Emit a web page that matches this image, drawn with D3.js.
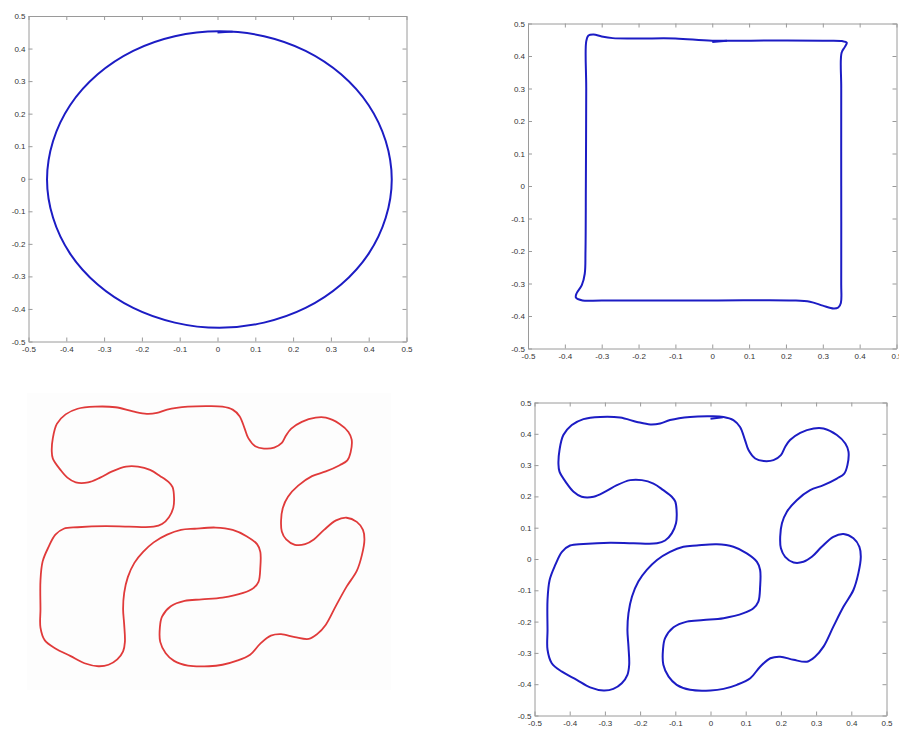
<!DOCTYPE html>
<html>
<head>
<meta charset="utf-8">
<script src="https://cdn.jsdelivr.net/npm/d3@7"></script>
<style>
  html, body { margin: 0; padding: 0; background: #fff; }
  svg { display: block; }
  .tick text { font-family: "Liberation Sans", Arial, sans-serif; font-size: 8px; fill: #333; }
</style>
</head>
<body>
<svg id="chart" width="899" height="731"></svg>
<script>
// Axis ticks shared by every plot
const tickValues = [-0.5, -0.4, -0.3, -0.2, -0.1, 0, 0.1, 0.2, 0.3, 0.4, 0.5];
const tickLabels = ["-0.5", "-0.4", "-0.3", "-0.2", "-0.1", "0", "0.1", "0.2", "0.3", "0.4", "0.5"];

// Tracked circular trajectory (x, y)
const circlePath = [
  [0.461, -0.002], [0.445, 0.116], [0.400, 0.226], [0.327, 0.321], [0.233, 0.393],
  [0.123, 0.438], [0.005, 0.453], [-0.113, 0.438], [-0.223, 0.393], [-0.317, 0.321],
  [-0.390, 0.226], [-0.435, 0.116], [-0.451, -0.002], [-0.435, -0.120], [-0.390, -0.230],
  [-0.317, -0.325], [-0.223, -0.397], [-0.113, -0.442], [0.005, -0.458], [0.123, -0.442],
  [0.233, -0.397], [0.327, -0.325], [0.400, -0.230], [0.445, -0.120]
];
const circleStart = [[0.0, 0.449], [0.04, 0.452]];

// Tracked square trajectory (x, y)
const squarePath = [
  [0.0, 0.447], [0.15, 0.448], [0.30, 0.447], [0.352, 0.446], [0.365, 0.441],
  [0.360, 0.428], [0.351, 0.410], [0.350, 0.300], [0.350, 0.000], [0.350, -0.300],
  [0.349, -0.360], [0.342, -0.374], [0.329, -0.377], [0.300, -0.368], [0.265, -0.356],
  [0.22, -0.352], [0.0, -0.352], [-0.300, -0.352], [-0.352, -0.352], [-0.370, -0.343],
  [-0.368, -0.330], [-0.354, -0.305], [-0.346, -0.270], [-0.344, -0.200], [-0.343, 0.000],
  [-0.342, 0.300], [-0.342, 0.445], [-0.336, 0.463], [-0.322, 0.466], [-0.300, 0.460],
  [-0.270, 0.455], [-0.200, 0.454], [-0.10, 0.454]
];
const squareStart = [[0.0, 0.443], [0.04, 0.447]];

// Reference (red) and tracked (blue) free-form trajectory (x, y)
const shapePath = [
  [0.000, 0.456], [0.037, 0.454], [0.065, 0.444], [0.084, 0.422], [0.098, 0.380],
  [0.108, 0.348], [0.127, 0.321], [0.151, 0.313], [0.179, 0.316], [0.200, 0.332],
  [0.212, 0.358], [0.226, 0.380], [0.255, 0.403], [0.293, 0.417], [0.321, 0.417],
  [0.359, 0.396], [0.383, 0.369], [0.392, 0.343], [0.389, 0.300], [0.380, 0.273],
  [0.359, 0.257], [0.321, 0.236], [0.283, 0.220], [0.245, 0.188], [0.217, 0.151],
  [0.203, 0.114], [0.198, 0.071], [0.200, 0.034], [0.212, 0.007], [0.236, -0.011],
  [0.264, -0.009], [0.288, 0.007], [0.316, 0.039], [0.349, 0.071], [0.378, 0.080],
  [0.406, 0.066], [0.423, 0.039], [0.427, 0.007], [0.420, -0.046], [0.406, -0.099],
  [0.378, -0.152], [0.349, -0.216], [0.321, -0.280], [0.297, -0.312], [0.274, -0.328],
  [0.236, -0.322], [0.198, -0.312], [0.170, -0.317], [0.141, -0.344], [0.113, -0.381],
  [0.075, -0.402], [0.037, -0.415], [0.000, -0.420], [-0.058, -0.418], [-0.096, -0.402],
  [-0.119, -0.376], [-0.134, -0.338], [-0.135, -0.290], [-0.129, -0.253], [-0.105, -0.218],
  [-0.067, -0.200], [-0.020, -0.195], [0.037, -0.189], [0.094, -0.173], [0.122, -0.157],
  [0.136, -0.136], [0.141, -0.088], [0.141, -0.035], [0.132, -0.009], [0.103, 0.018],
  [0.065, 0.039], [0.018, 0.047], [-0.039, 0.043], [-0.077, 0.039], [-0.115, 0.023],
  [-0.152, -0.003], [-0.181, -0.035], [-0.205, -0.072], [-0.223, -0.120], [-0.233, -0.173],
  [-0.236, -0.227], [-0.233, -0.280], [-0.231, -0.338], [-0.236, -0.370], [-0.252, -0.397],
  [-0.276, -0.415], [-0.304, -0.420], [-0.342, -0.410], [-0.380, -0.386], [-0.422, -0.360],
  [-0.451, -0.333], [-0.463, -0.290], [-0.463, -0.227], [-0.463, -0.131], [-0.457, -0.067],
  [-0.441, -0.019], [-0.422, 0.023], [-0.399, 0.043], [-0.361, 0.048], [-0.285, 0.052],
  [-0.219, 0.050], [-0.152, 0.050], [-0.129, 0.059], [-0.110, 0.082], [-0.098, 0.114],
  [-0.096, 0.146], [-0.100, 0.183], [-0.110, 0.199], [-0.134, 0.220], [-0.162, 0.241],
  [-0.195, 0.252], [-0.228, 0.252], [-0.266, 0.236], [-0.299, 0.215], [-0.332, 0.199],
  [-0.366, 0.199], [-0.389, 0.215], [-0.408, 0.241], [-0.429, 0.279], [-0.432, 0.305],
  [-0.429, 0.348], [-0.418, 0.396], [-0.394, 0.428], [-0.361, 0.447], [-0.313, 0.454],
  [-0.257, 0.452], [-0.209, 0.438], [-0.171, 0.430], [-0.143, 0.433], [-0.115, 0.444],
  [-0.058, 0.454]
];
const shapeStart = [[0.0, 0.448], [0.035, 0.453]];

const BLUE = "#1c1cc4";
const RED = "#e03a3a";

const svg = d3.select("#chart");

function panel(box, opts) {
  const x = d3.scaleLinear().domain([-0.5, 0.5]).range([box.left, box.right]);
  const y = d3.scaleLinear().domain([-0.5, 0.5]).range([box.bottom, box.top]);
  const g = svg.append("g");

  if (opts.background) {
    g.append("rect")
      .attr("x", box.left).attr("y", box.top)
      .attr("width", box.right - box.left).attr("height", box.bottom - box.top)
      .attr("fill", opts.background);
  }

  if (opts.axes) {
    const fmt = d => tickLabels[tickValues.indexOf(d)];
    const styleAxis = sel => {
      sel.selectAll(".domain").attr("stroke", "#9a9a9a").attr("stroke-width", 1);
      sel.selectAll(".tick line").attr("stroke", "#9a9a9a");
    };
    g.append("g").attr("transform", `translate(0,${box.bottom})`)
      .call(d3.axisBottom(x).tickValues(tickValues).tickFormat(fmt)
        .tickSizeInner(-4).tickSizeOuter(0).tickPadding(5))
      .call(styleAxis);
    g.append("g").attr("transform", `translate(0,${box.top})`)
      .call(d3.axisTop(x).tickValues(tickValues).tickFormat("")
        .tickSizeInner(-4).tickSizeOuter(0))
      .call(styleAxis);
    g.append("g").attr("transform", `translate(${box.left},0)`)
      .call(d3.axisLeft(y).tickValues(tickValues).tickFormat(fmt)
        .tickSizeInner(-4).tickSizeOuter(0).tickPadding(3))
      .call(styleAxis);
    g.append("g").attr("transform", `translate(${box.right},0)`)
      .call(d3.axisRight(y).tickValues(tickValues).tickFormat("")
        .tickSizeInner(-4).tickSizeOuter(0))
      .call(styleAxis);
    g.selectAll(".tick text").attr("font-family", null).attr("font-size", null);
  }

  const line = d3.line().x(d => x(d[0])).y(d => y(d[1]));
  g.append("path")
    .datum(opts.data)
    .attr("d", line.curve(d3.curveCatmullRomClosed.alpha(0.5)))
    .attr("fill", "none")
    .attr("stroke", opts.color)
    .attr("stroke-width", opts.width)
    .attr("stroke-linejoin", "round");
  if (opts.start) {
    g.append("path")
      .datum(opts.start)
      .attr("d", d3.line().x(d => x(d[0])).y(d => y(d[1]))(opts.start))
      .attr("fill", "none")
      .attr("stroke", opts.color)
      .attr("stroke-width", opts.width);
  }
}

panel({ left: 28.5, right: 406.5, top: 16, bottom: 341.5 },
  { axes: true, data: circlePath, start: circleStart, color: BLUE, width: 2 });
panel({ left: 528, right: 896.5, top: 23.5, bottom: 348.5 },
  { axes: true, data: squarePath, start: squareStart, color: BLUE, width: 2 });
panel({ left: 27, right: 391, top: 393, bottom: 690 },
  { axes: false, background: "#fdfdfd", data: shapePath, color: RED, width: 1.8 });
panel({ left: 534.5, right: 886.5, top: 402.5, bottom: 715.5 },
  { axes: true, data: shapePath, start: shapeStart, color: BLUE, width: 2 });
</script>
</body>
</html>
